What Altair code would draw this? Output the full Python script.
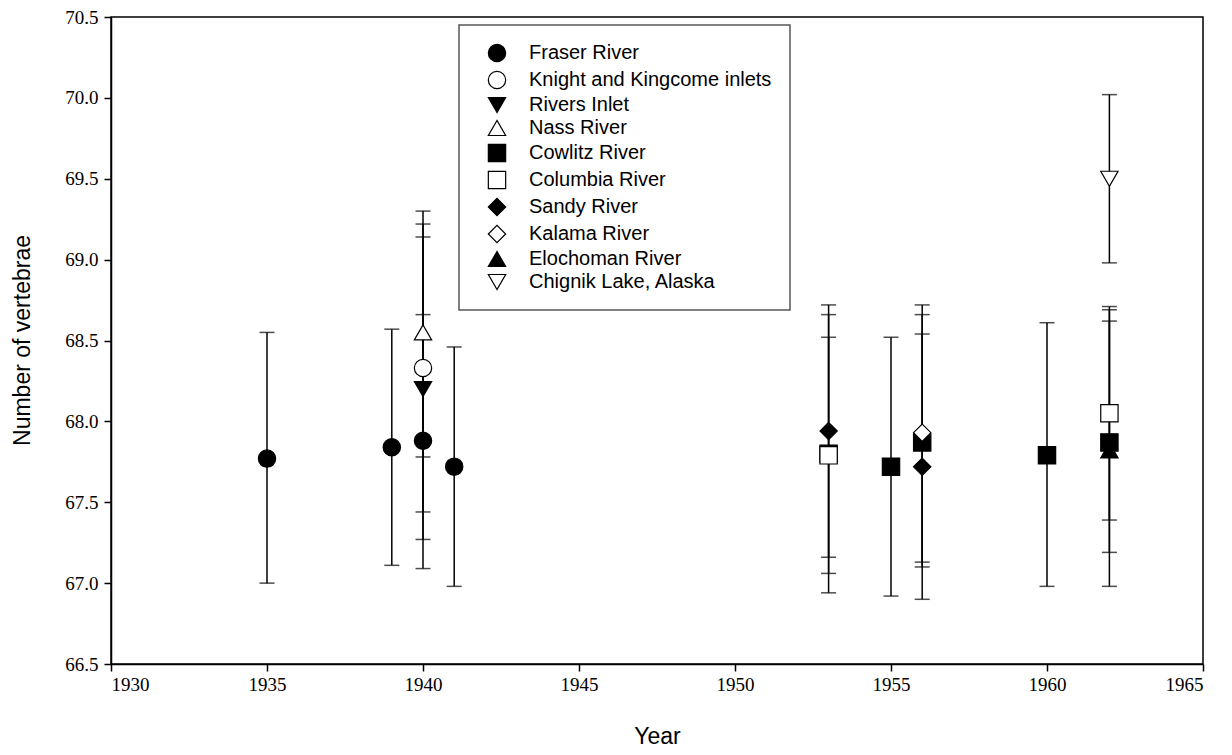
import altair as alt
import pandas as pd

series_order = ["Fraser River", "Knight and Kingcome inlets", "Rivers Inlet", "Nass River",
                "Cowlitz River", "Columbia River", "Sandy River", "Kalama River",
                "Elochoman River", "Chignik Lake, Alaska"]
shapes = ["circle", "circle", "triangle-down", "triangle-up", "square", "square",
          "diamond", "diamond", "triangle-up", "triangle-down"]
fills = ["black", "white", "black", "white", "black", "white", "black", "white", "black", "white"]
sizes = [300, 300, 300, 300, 260, 260, 450, 450, 300, 300]

series = ["Fraser River", "Fraser River", "Fraser River", "Fraser River",
          "Knight and Kingcome inlets", "Rivers Inlet", "Nass River",
          "Cowlitz River", "Cowlitz River", "Cowlitz River", "Cowlitz River", "Cowlitz River",
          "Columbia River", "Columbia River", "Sandy River", "Sandy River",
          "Kalama River", "Elochoman River", "Chignik Lake, Alaska"]
year = [1935, 1939, 1940, 1941, 1940, 1940, 1940,
        1953, 1955, 1956, 1960, 1962, 1953, 1962, 1953, 1956, 1956, 1962, 1962]
mean = [67.77, 67.84, 67.88, 67.72, 68.33, 68.20, 68.55,
        67.80, 67.72, 67.87, 67.79, 67.87, 67.79, 68.05, 67.94, 67.72, 67.93, 67.82, 69.50]
lower = [67.00, 67.11, 67.09, 66.98, 67.44, 67.27, 67.78,
         66.94, 66.92, 67.10, 66.98, 66.98, 67.06, 67.39, 67.16, 66.90, 67.13, 67.19, 68.98]
upper = [68.55, 68.57, 68.66, 68.46, 69.22, 69.14, 69.30,
         68.66, 68.52, 68.66, 68.61, 68.69, 68.52, 68.71, 68.72, 68.54, 68.72, 68.62, 70.02]

df = pd.DataFrame({"series": series, "year": year, "mean": mean, "lower": lower, "upper": upper})
df["order"] = df["series"].map({s: i for i, s in enumerate(series_order)})
df = df.sort_values(["order", "year"]).reset_index(drop=True)

x_scale = alt.Scale(domain=[1930, 1965], nice=False, zero=False)
y_scale = alt.Scale(domain=[66.5, 70.5], nice=False, zero=False)

x_axis = alt.Axis(values=list(range(1930, 1966, 5)), format="d", title="Year", grid=False,
                  labelFont="Liberation Serif", labelFontSize=19, labelColor="black",
                  labelPadding=4, tickSize=7, tickColor="black", tickWidth=1.5,
                  domainColor="black", domainWidth=1.5,
                  titleFont="Liberation Sans", titleFontSize=23, titleFontWeight="normal",
                  titleColor="black", titleX=546, titleY=72, titleBaseline="middle")
y_axis = alt.Axis(values=[66.5 + 0.5 * i for i in range(9)], format=".1f",
                  title="Number of vertebrae", grid=False,
                  labelFont="Liberation Serif", labelFontSize=19, labelColor="black",
                  labelPadding=6, tickSize=7, tickColor="black", tickWidth=1.5,
                  domainColor="black", domainWidth=1.5,
                  titleFont="Liberation Sans", titleFontSize=23, titleFontWeight="normal",
                  titleColor="black", titleX=-89, titleY=323, titleBaseline="middle",
                  titleAngle=-90, titleAlign="center")

base = alt.Chart(df)

rules = base.mark_rule(color="black", strokeWidth=1.5).encode(
    x=alt.X("year:Q", scale=x_scale, axis=x_axis),
    y=alt.Y("lower:Q", scale=y_scale, axis=y_axis),
    y2="upper:Q",
)
cap_lo = base.mark_tick(color="black", thickness=1.5, size=15, orient="horizontal").encode(
    x=alt.X("year:Q", scale=x_scale),
    y=alt.Y("lower:Q", scale=y_scale),
)
cap_hi = base.mark_tick(color="black", thickness=1.5, size=15, orient="horizontal").encode(
    x=alt.X("year:Q", scale=x_scale),
    y=alt.Y("upper:Q", scale=y_scale),
)
points = base.mark_point(filled=True, strokeWidth=1.2, opacity=1).encode(
    x=alt.X("year:Q", scale=x_scale),
    y=alt.Y("mean:Q", scale=y_scale),
    shape=alt.Shape("series:N", scale=alt.Scale(domain=series_order, range=shapes), title=None),
    fill=alt.Fill("series:N", scale=alt.Scale(domain=series_order, range=fills), title=None),
    stroke=alt.Stroke("series:N", scale=alt.Scale(domain=series_order, range=["black"] * 10), title=None),
    size=alt.Size("series:N", scale=alt.Scale(domain=series_order, range=sizes), title=None),
    order=alt.Order("order:Q"),
)

chart = alt.layer(rules, cap_lo, cap_hi, points).properties(
    width=1092, height=647,
    autosize=alt.AutoSizeParams(type="none"),
    padding={"left": 103, "top": 9, "right": 21, "bottom": 83},
).configure_view(
    stroke="black", strokeWidth=1.5
).configure_legend(
    orient="none", legendX=348, legendY=8,
    strokeColor="#555555", strokeWidth=1.5, fillColor="white",
    padding=18, symbolOffset=10, rowPadding=3,
    symbolStrokeWidth=1.2,
    labelFont="Liberation Sans", labelFontSize=20, labelColor="black",
    labelOffset=22, labelLimit=400,
)

chart.save("out.html", embed_options={"renderer": "svg", "actions": False})
